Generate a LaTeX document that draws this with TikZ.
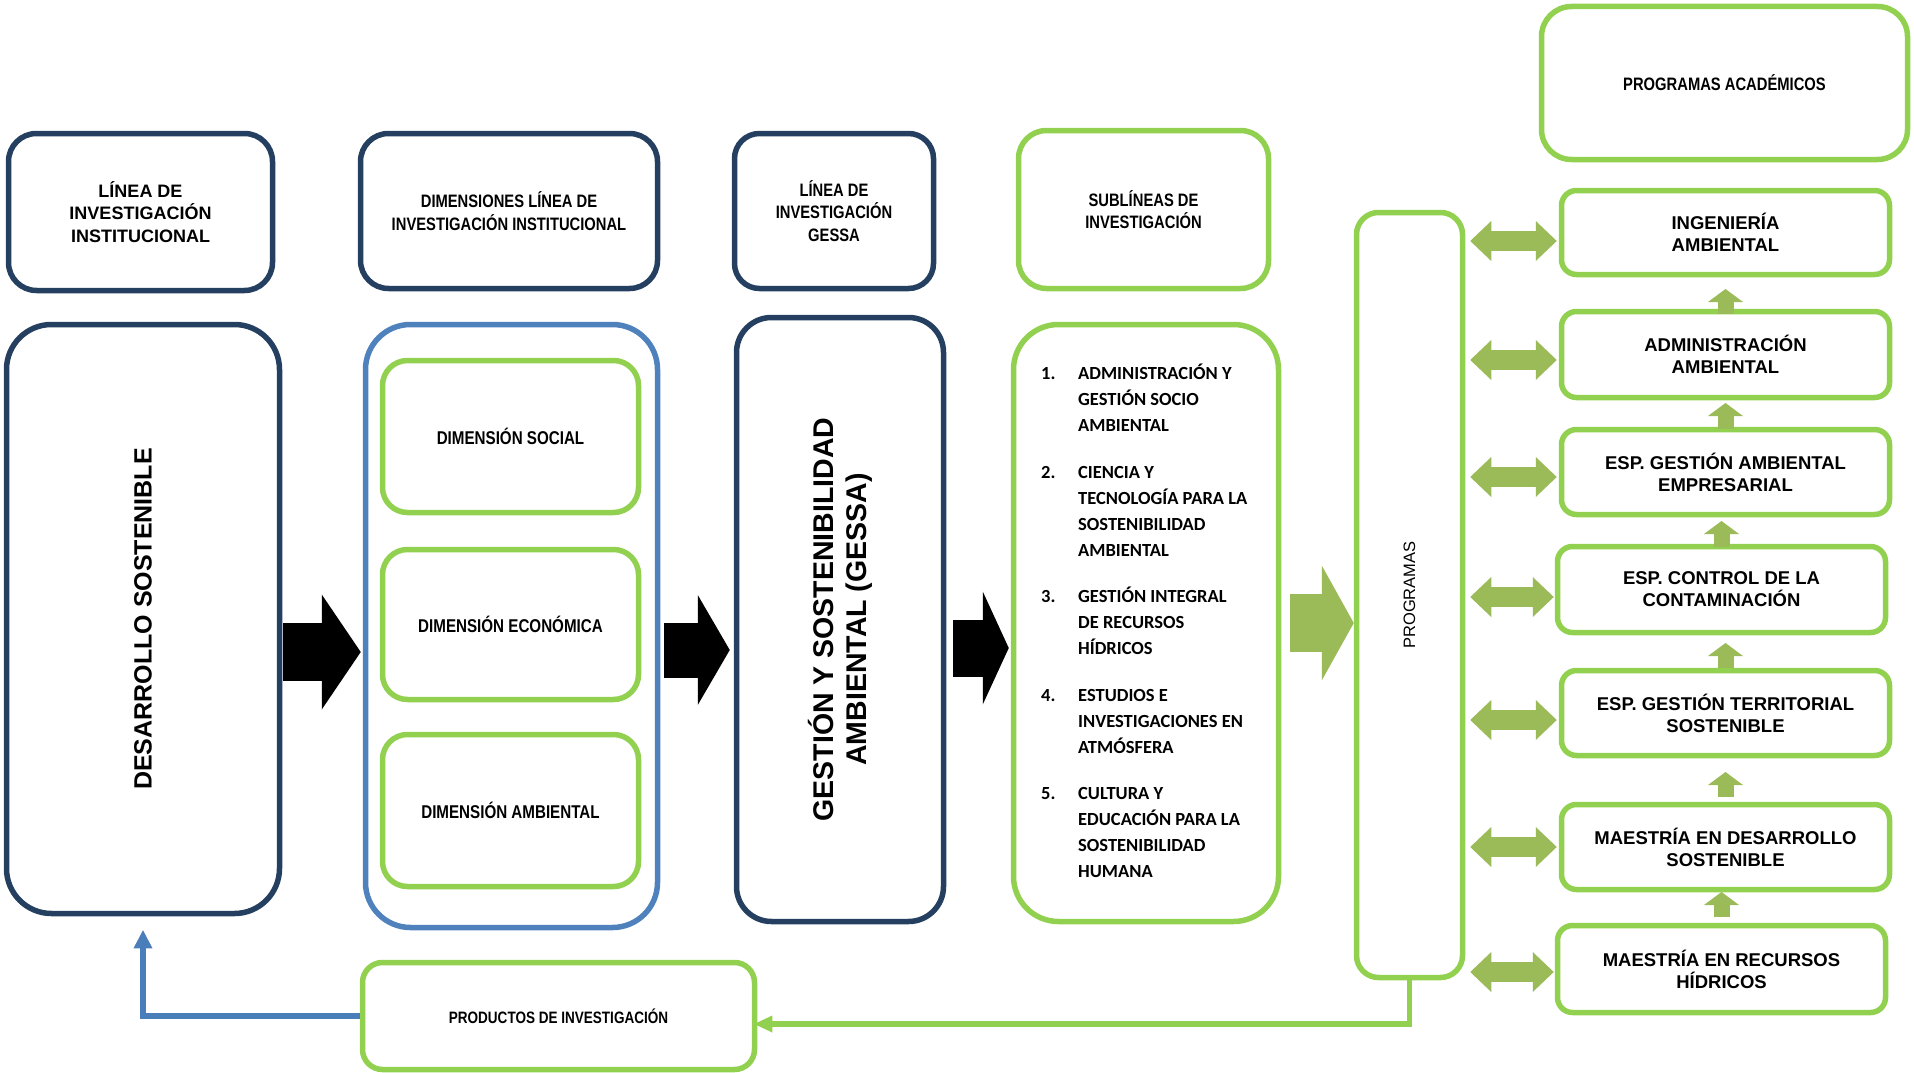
\documentclass[tikz,border=0pt]{standalone}
\usepackage{fontspec}
\setmainfont{Liberation Sans}
\newfontfamily\narrowfont[FakeStretch=0.82]{Liberation Sans}
\newfontfamily\calfont{Carlito}
\usetikzlibrary{arrows.meta,calc}
\definecolor{navy}{HTML}{243F60}
\definecolor{dimblue}{HTML}{4F81BD}
\definecolor{lgreen}{HTML}{92D050}
\definecolor{arrgreen}{HTML}{9BBB59}
\definecolor{lineblue}{HTML}{4A7EBB}
\begin{document}
\begin{tikzpicture}[x=1pt,y=-1pt,
  navybox/.style={draw=navy, line width=5.5pt, rounded corners=#1, inner sep=0pt, align=center, fill=white},
  navybox/.default=25pt,
  greenbox/.style={draw=lgreen, line width=5.5pt, rounded corners=#1, inner sep=0pt, align=center, fill=white},
  greenbox/.default=20pt,
  bluebox/.style={draw=dimblue, line width=5.5pt, rounded corners=#1, inner sep=0pt, fill=white},
  bluebox/.default=45pt,
  hdrwide/.style={font=\bfseries\fontsize{18}{22.5}\selectfont},
  hdrnarrow/.style={font=\narrowfont\bfseries\fontsize{18}{22.5}\selectfont},
  dimfont/.style={font=\narrowfont\bfseries\fontsize{18.5}{22}\selectfont},
  progfont/.style={font=\bfseries\fontsize{18.5}{22}\selectfont},
  progbox/.style={greenbox=15pt, minimum width=328pt, progfont},
  blackarrow/.style n args={3}{draw=black, line width=#1, -{Triangle[length=#2, width=#3, line width=0pt]}},
  greenarrow/.style n args={3}{draw=arrgreen, line width=#1, -{Triangle[length=#2, width=#3, line width=0pt]}},
  dblarrow/.style={draw=arrgreen, line width=20pt, {Triangle[length=21pt, width=40pt, line width=0pt]}-{Triangle[length=21pt, width=40pt, line width=0pt]}},
  uparrow/.style={draw=arrgreen, line width=16pt, -{Triangle[length=13pt, width=35pt, line width=0pt]}},
]
\useasboundingbox (0,0) rectangle (1914,1073);

% header boxes
\node[navybox=28pt, minimum width=264pt, minimum height=157pt, hdrwide] (LIN) at (140.5,212) {LÍNEA DE\\INVESTIGACIÓN\\INSTITUCIONAL};
\node[navybox=28pt, minimum width=297pt, minimum height=155pt, hdrnarrow] (DIMH) at (509,211) {DIMENSIONES LÍNEA DE\\INVESTIGACIÓN INSTITUCIONAL};
\node[navybox=25pt, minimum width=199pt, minimum height=155pt, hdrnarrow] (GESH) at (834,211) {LÍNEA DE\\INVESTIGACIÓN\\GESSA};
\node[greenbox=28pt, minimum width=250pt, minimum height=158pt, hdrnarrow] (SUBH) at (1143.5,209.5) {SUBLÍNEAS DE\\INVESTIGACIÓN};
\node[greenbox=30pt, minimum width=366pt, minimum height=153pt, hdrnarrow] (PROGA) at (1724.5,83) {PROGRAMAS ACADÉMICOS};

% main column boxes
\node[navybox=45pt, minimum width=273pt, minimum height=589pt,
  label={[rotate=90, font=\bfseries\fontsize{25}{30}\selectfont]center:{DESARROLLO SOSTENIBLE}}] (DES) at (143,619) {};
\node[bluebox=45pt, minimum width=292pt, minimum height=603pt] (DIM) at (511.5,626) {};
\node[greenbox=25pt, minimum width=256pt, minimum height=152pt, dimfont] (SOC) at (510.5,436.5) {DIMENSIÓN SOCIAL};
\node[greenbox=25pt, minimum width=256pt, minimum height=150pt, dimfont] (ECO) at (510.5,624.5) {DIMENSIÓN ECONÓMICA};
\node[greenbox=25pt, minimum width=256pt, minimum height=152pt, dimfont] (AMB) at (510.5,810.5) {DIMENSIÓN AMBIENTAL};
\node[navybox=35pt, minimum width=207pt, minimum height=604pt,
  label={[rotate=90, align=center, font=\bfseries\fontsize{28.5}{33}\selectfont]center:{GESTIÓN Y SOSTENIBILIDAD\\AMBIENTAL (GESSA)}}] (GES) at (840,619.5) {};
\node[greenbox=45pt, minimum width=265pt, minimum height=597pt] (SUB) at (1146,623) {};
\node[anchor=base west, inner sep=0pt, font=\calfont\bfseries\fontsize{18.5}{26}\selectfont] (SUBTXT) at (1041,379.5) {%
\begin{tabular}[t]{@{}p{37pt}@{}l@{}}
1. & ADMINISTRACIÓN Y\\
   & GESTIÓN SOCIO\\
   & AMBIENTAL\\[20.5pt]
2. & CIENCIA Y\\
   & TECNOLOGÍA PARA LA\\
   & SOSTENIBILIDAD\\
   & AMBIENTAL\\[20.5pt]
3. & GESTIÓN INTEGRAL\\
   & DE RECURSOS\\
   & HÍDRICOS\\[20.5pt]
4. & ESTUDIOS E\\
   & INVESTIGACIONES EN\\
   & ATMÓSFERA\\[20.5pt]
5. & CULTURA Y\\
   & EDUCACIÓN PARA LA\\
   & SOSTENIBILIDAD\\
   & HUMANA
\end{tabular}};
\node[greenbox=22pt, minimum width=106pt, minimum height=765pt,
  label={[rotate=90, font=\fontsize{16.5}{20}\selectfont]center:{PROGRAMAS}}] (PROG) at (1409.5,595) {};

% programme boxes
\node[progbox, minimum height=84pt] (ING) at (1725.5,232.5) {INGENIERÍA\\AMBIENTAL};
\node[progbox, minimum height=86pt] (ADM) at (1725.5,354.5) {ADMINISTRACIÓN\\AMBIENTAL};
\node[progbox, minimum height=85pt] (GEM) at (1725.5,472) {ESP. GESTIÓN AMBIENTAL\\EMPRESARIAL};
\node[progbox, minimum height=86pt] (CTL) at (1721.5,589.5) {ESP. CONTROL DE LA\\CONTAMINACIÓN};
\node[progbox, minimum height=85pt] (TER) at (1725.5,713) {ESP. GESTIÓN TERRITORIAL\\SOSTENIBLE};
\node[progbox, minimum height=85pt] (MDS) at (1725.5,847) {MAESTRÍA EN DESARROLLO\\SOSTENIBLE};
\node[progbox, minimum height=87pt] (MRH) at (1721.5,969) {MAESTRÍA EN RECURSOS\\HÍDRICOS};

% products box
\node[greenbox=20pt, minimum width=392pt, minimum height=107pt, font=\narrowfont\bfseries\fontsize{16.5}{20}\selectfont] (PROD) at (558.5,1016) {PRODUCTOS DE INVESTIGACIÓN};

% block arrows between columns
\draw[blackarrow={58pt}{39pt}{115pt}, shorten <=1pt, shorten >=2pt] (DES.east |- 0,652) -- (DIM.west |- 0,652);
\draw[blackarrow={55pt}{32pt}{110pt}, shorten <=4pt, shorten >=4pt] (DIM.east |- 0,650) -- (GES.west |- 0,650);
\draw[blackarrow={57pt}{26pt}{113pt}, shorten <=7pt, shorten >=2pt] (GES.east |- 0,648) -- (SUB.west |- 0,648);
\draw[greenarrow={58pt}{32pt}{115pt}, shorten <=9pt] (SUB.east |- 0,623) -- (PROG.west |- 0,623);

% double arrows PROGRAMAS <-> programmes
\draw[dblarrow, shorten <=5pt, shorten >=2pt] (PROG.east |- 0,241) -- (ING.west |- 0,241);
\draw[dblarrow, shorten <=5pt, shorten >=2pt] (PROG.east |- 0,360) -- (ADM.west |- 0,360);
\draw[dblarrow, shorten <=5pt, shorten >=2pt] (PROG.east |- 0,477) -- (GEM.west |- 0,477);
\draw[dblarrow, shorten <=5pt, shorten >=1pt] (PROG.east |- 0,597) -- (CTL.west |- 0,597);
\draw[dblarrow, shorten <=5pt, shorten >=2pt] (PROG.east |- 0,720) -- (TER.west |- 0,720);
\draw[dblarrow, shorten <=5pt, shorten >=2pt] (PROG.east |- 0,847) -- (MDS.west |- 0,847);
\draw[dblarrow, shorten <=5pt, shorten >=1pt] (PROG.east |- 0,972) -- (MRH.west |- 0,972);

% small up arrows between programmes
\draw[uparrow] (ADM.north |- 0,314) -- (ADM.north |- 0,289);
\draw[uparrow] (GEM.north |- 0,429) -- (GEM.north |- 0,403);
\draw[uparrow] (CTL.north |- 0,547) -- (CTL.north |- 0,521);
\draw[uparrow] (TER.north |- 0,668) -- (TER.north |- 0,643);
\draw[uparrow] (MDS.north |- 0,797) -- (MDS.north |- 0,772);
\draw[uparrow] (MRH.north |- 0,917) -- (MRH.north |- 0,892);

% feedback connectors
\draw[draw=lgreen, line width=5.5pt, -{Triangle[length=18pt, width=17pt, line width=0pt]}, shorten >=-3pt] (PROG.south) |- ($(PROD.east)+(0,8)$);
\draw[draw=lineblue, line width=6pt, -{Triangle[length=18pt, width=19pt, line width=0pt]}] (PROD.west) -| ($(DES.south)+(0,14)$);
\end{tikzpicture}
\end{document}
